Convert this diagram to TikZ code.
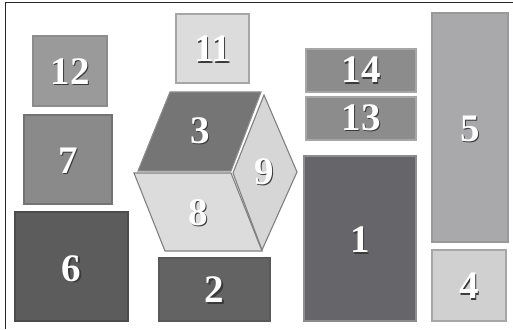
\documentclass[tikz,border=0pt]{standalone}
\usepackage{fontspec}
\setmainfont{Liberation Serif}
\definecolor{shd}{HTML}{3A3A3A}
\newcommand\shtxt[1]{\makebox[0pt][l]{\kern1.4pt\raisebox{-1.4pt}{\color{shd}#1}}#1}
\tikzset{
  box/.style={draw=#1, line width=1.1pt, inner sep=0pt, outer sep=0pt},
  num/.style={text=white, font=\fontsize{39}{39}\selectfont\bfseries},
  face/.style={line width=1.1pt},
}
\begin{document}
\begin{tikzpicture}[x=1pt,y=1pt]
\useasboundingbox (0,0) rectangle (513,329);
\fill[white] (0,0) rectangle (513,329);
\draw[line width=1pt, black!85] (5,0) -- (5,326) -- (513,326);
% rectangles
\node[box=black!45, fill={rgb,255:red,154;green,154;blue,154}, minimum width=74pt, minimum height=70pt] (n12) at (70,258) {};
\node[box=black!35, fill={rgb,255:red,220;green,220;blue,220}, minimum width=73pt, minimum height=69pt] (n11) at (212.5,280.5) {};
\node[box=black!55, fill={rgb,255:red,138;green,138;blue,138}, minimum width=88pt, minimum height=89pt] (n7) at (68,169.5) {};
\node[box=black!70, fill={rgb,255:red,92;green,92;blue,92}, minimum width=113pt, minimum height=109pt] (n6) at (71.5,62.5) {};
\node[box=black!65, fill={rgb,255:red,99;green,99;blue,99}, minimum width=111pt, minimum height=63pt] (n2) at (214.5,39.5) {};
\node[box=black!35, fill={rgb,255:red,140;green,140;blue,140}, minimum width=110pt, minimum height=43pt] (n14) at (361,258.5) {};
\node[box=black!35, fill={rgb,255:red,140;green,140;blue,140}, minimum width=110pt, minimum height=43pt] (n13) at (361,210.5) {};
\node[box=black!45, fill={rgb,255:red,102;green,102;blue,106}, minimum width=112pt, minimum height=165pt] (n1) at (360,90.5) {};
\node[box=black!40, fill={rgb,255:red,169;green,169;blue,171}, minimum width=76pt, minimum height=229pt] (n5) at (470,201.5) {};
\node[box=black!35, fill={rgb,255:red,208;green,208;blue,208}, minimum width=74pt, minimum height=71pt] (n4) at (469,43.5) {};
% cube faces
\draw[face, draw=black!45, fill={rgb,255:red,117;green,117;blue,117}] (170,237) -- (261,237) -- (231,158) -- (138,158) -- cycle;
\draw[face, draw=black!50, fill={rgb,255:red,214;green,214;blue,214}] (264,234) -- (297,157) -- (262,79) -- (233,156) -- cycle;
\draw[face, draw=black!50, fill={rgb,255:red,220;green,220;blue,220}] (134,156) -- (231,156) -- (262,78) -- (165,78) -- cycle;
% labels
\node[num] (t12) at ([yshift=-1pt]n12) {\shtxt{12}};
\node[num] (t11) at ([yshift=-1pt]n11) {\shtxt{11}};
\node[num] (t7) at ([yshift=-2pt]n7) {\shtxt{7}};
\node[num] (t6) at ([yshift=-3pt]n6) {\shtxt{6}};
\node[num] (t2) at ([yshift=-1pt]n2) {\shtxt{2}};
\node[num] (t14) at (n14) {\shtxt{14}};
\node[num] (t13) at (n13) {\shtxt{13}};
\node[num] (t1) at ([yshift=-2pt]n1) {\shtxt{1}};
\node[num] (t5) at ([yshift=-2pt]n5) {\shtxt{5}};
\node[num] (t4) at ([yshift=-1pt]n4) {\shtxt{4}};
\node[num] (t3) at (200,198) {\shtxt{3}};
\node[num] (t9) at (264,157) {\shtxt{9}};
\node[num] (t8) at (198,116) {\shtxt{8}};
\end{tikzpicture}
\end{document}
